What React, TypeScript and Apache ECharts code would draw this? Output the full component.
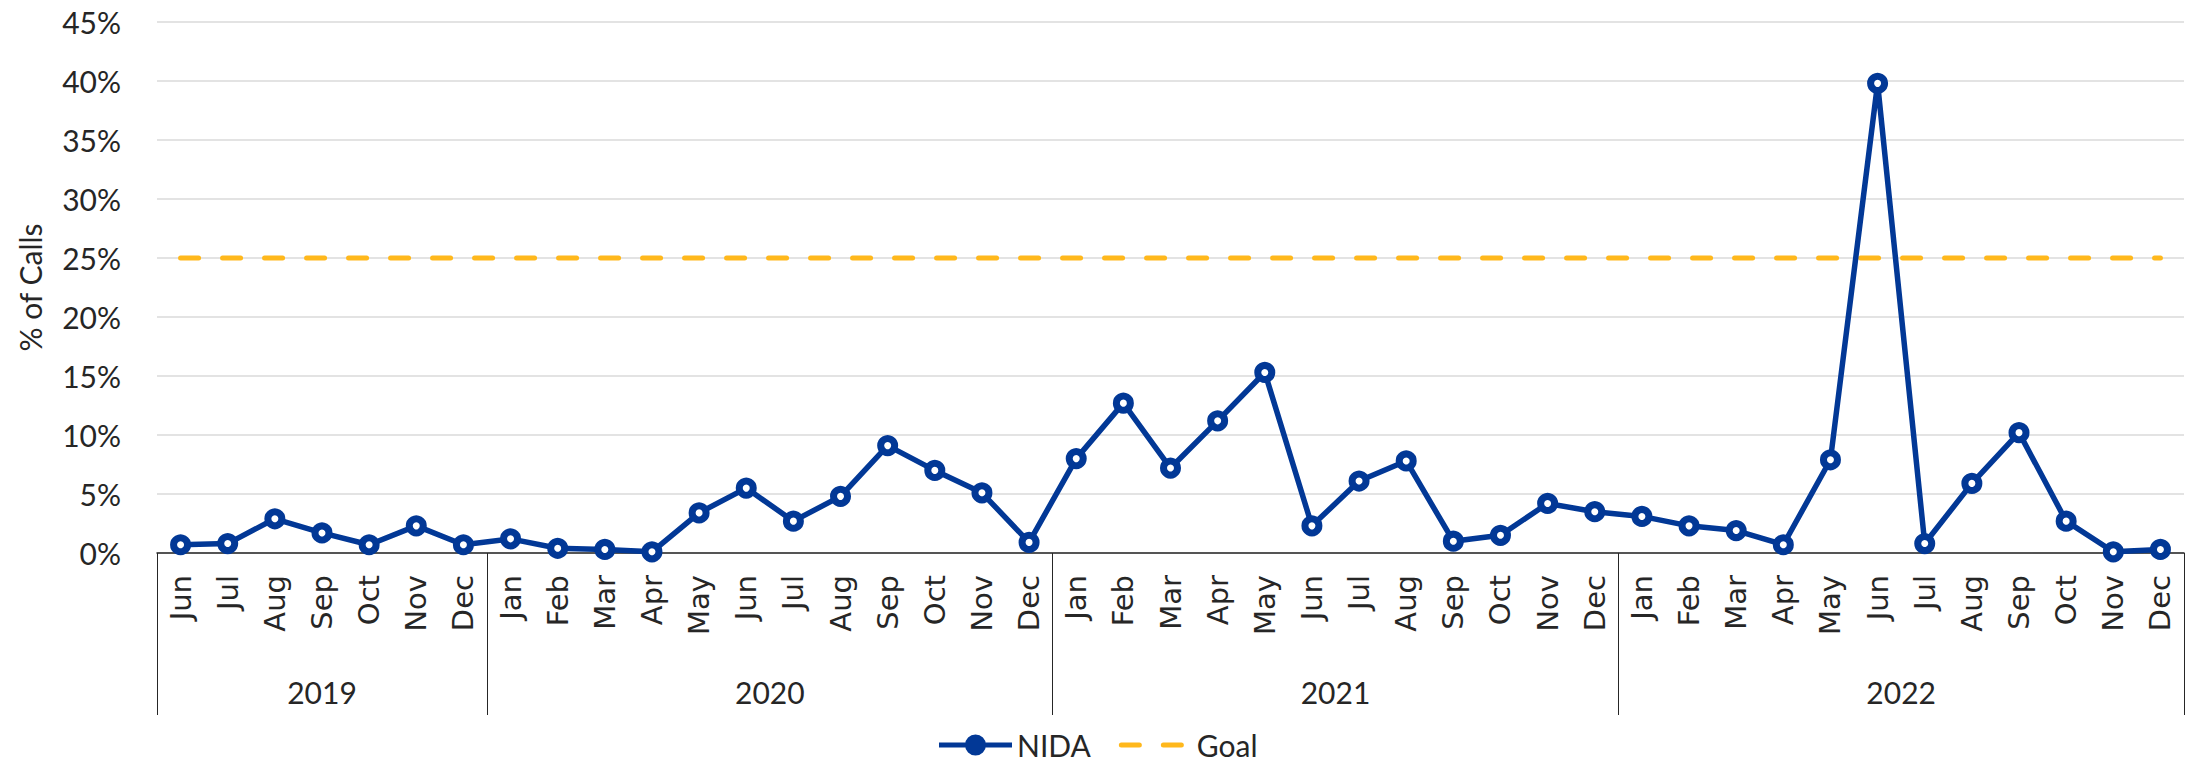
import React, { useEffect, useRef } from "react";
import * as echarts from "echarts";

const monthLabels = [
  "Jun", "Jul", "Aug", "Sep", "Oct", "Nov", "Dec",
  "Jan", "Feb", "Mar", "Apr", "May", "Jun", "Jul", "Aug", "Sep", "Oct", "Nov", "Dec",
  "Jan", "Feb", "Mar", "Apr", "May", "Jun", "Jul", "Aug", "Sep", "Oct", "Nov", "Dec",
  "Jan", "Feb", "Mar", "Apr", "May", "Jun", "Jul", "Aug", "Sep", "Oct", "Nov", "Dec",
];
const yearLabels = ["2019", "2020", "2021", "2022"];
const yearMonthCounts = [7, 12, 12, 12];

const nidaValues = [
  0.7, 0.8, 2.9, 1.7, 0.7, 2.3, 0.7,
  1.2, 0.4, 0.3, 0.1, 3.4, 5.5, 2.7, 4.8, 9.1, 7.0, 5.1, 0.9,
  8.0, 12.7, 7.2, 11.2, 15.3, 2.3, 6.1, 7.8, 1.0, 1.5, 4.2, 3.5,
  3.1, 2.3, 1.9, 0.7, 7.9, 39.8, 0.8, 5.9, 10.2, 2.7, 0.1, 0.3,
];
const goalValues = [
  25, 25, 25, 25, 25, 25, 25,
  25, 25, 25, 25, 25, 25, 25, 25, 25, 25, 25, 25,
  25, 25, 25, 25, 25, 25, 25, 25, 25, 25, 25, 25,
  25, 25, 25, 25, 25, 25, 25, 25, 25, 25, 25, 25,
];

const BLUE = "#023896";
const GOLD = "#FFB81C";
const TEXT = "#262626";
const NUM_FONT = "Lato, 'Open Sans', sans-serif";

// legend icons drawn in a 73 x 22 box (tiny corner specks fix the bounding box)
const CORNERS = "M0,0 H0.05 V0.05 H0 Z M72.95,21.95 H73 V22 H72.95 Z ";
const NIDA_ICON =
  "path://" +
  CORNERS +
  "M0,8.5 H73 V13.5 H0 Z " +
  "M26,11 A10.5,10.5 0 1,1 47,11 A10.5,10.5 0 1,1 26,11 Z";
const GOAL_ICON =
  "path://" +
  CORNERS +
  "M2.5,8.5 H20.5 A2.5,2.5 0 0 1 20.5,13.5 H2.5 A2.5,2.5 0 0 1 2.5,8.5 Z " +
  "M44.5,8.5 H62.5 A2.5,2.5 0 0 1 62.5,13.5 H44.5 A2.5,2.5 0 0 1 44.5,8.5 Z";

// Year axis built on half-month slots: slot i sits at i/2 months from the left edge.
const slotCount = monthLabels.length * 2 + 1;
const yearSlots: string[] = new Array(slotCount).fill("");
const boundarySlots = new Set<number>();
{
  let start = 0;
  yearLabels.forEach((y, k) => {
    const c = yearMonthCounts[k];
    yearSlots[2 * start + c] = y;
    boundarySlots.add(2 * start);
    boundarySlots.add(2 * (start + c));
    start += c;
  });
}

export default function App() {
  const ref = useRef<HTMLDivElement>(null);
  useEffect(() => {
    document.body.style.margin = "0";
    if (!ref.current) return;
    const chart = echarts.init(ref.current, undefined, { renderer: "svg" });
    chart.setOption({
      animation: false,
      backgroundColor: "#ffffff",
      grid: { left: 157, right: 2, top: 22, bottom: 212, containLabel: false },
      legend: {
        top: 725,
        left: 934,
        itemWidth: 73,
        itemHeight: 22,
        itemGap: 28,
        textStyle: { fontFamily: NUM_FONT, fontSize: 30, lineHeight: 30, color: TEXT },
        data: [
          { name: "NIDA", icon: NIDA_ICON, itemStyle: { color: BLUE, borderWidth: 0 } },
          { name: "Goal", icon: GOAL_ICON, itemStyle: { color: GOLD, borderWidth: 0 } },
        ],
      },
      xAxis: [
        {
          type: "category",
          position: "bottom",
          data: monthLabels,
          boundaryGap: true,
          axisLine: { show: true, lineStyle: { color: TEXT, width: 1.5 } },
          axisTick: { show: false },
          axisLabel: {
            rotate: 90,
            interval: 0,
            margin: 22,
            fontFamily: "'DejaVu Sans', sans-serif",
            fontSize: 29,
            color: TEXT,
          },
          splitLine: { show: false },
        },
        {
          type: "category",
          position: "bottom",
          offset: 0,
          data: yearSlots,
          boundaryGap: false,
          axisLine: { show: false },
          axisTick: {
            show: true,
            length: 162,
            interval: (index: number) => boundarySlots.has(index),
            lineStyle: { color: TEXT, width: 1 },
          },
          axisLabel: {
            interval: (index: number) => yearSlots[index] !== "",
            margin: 124,
            fontFamily: NUM_FONT,
            fontSize: 30,
            color: TEXT,
          },
          splitLine: { show: false },
        },
      ],
      yAxis: {
        type: "value",
        min: 0,
        max: 45,
        interval: 5,
        name: "% of Calls",
        nameLocation: "middle",
        nameRotate: 90,
        nameGap: 112,
        nameTextStyle: { fontFamily: NUM_FONT, fontSize: 30, color: TEXT },
        axisLine: { show: false },
        axisTick: { show: false },
        axisLabel: {
          formatter: "{value}%",
          margin: 36,
          fontFamily: NUM_FONT,
          fontSize: 30,
          color: TEXT,
        },
        splitLine: { lineStyle: { color: "#e3e3e3", width: 2 } },
      },
      series: [
        {
          name: "Goal",
          type: "line",
          data: goalValues,
          showSymbol: false,
          symbol: "none",
          lineStyle: { color: GOLD, width: 5, type: [18, 24], cap: "round" },
          itemStyle: { color: GOLD },
          z: 2,
        },
        {
          name: "NIDA",
          type: "line",
          data: nidaValues,
          symbol: "circle",
          symbolSize: 14,
          lineStyle: { color: BLUE, width: 5.5 },
          itemStyle: { color: "#ffffff", borderColor: BLUE, borderWidth: 7 },
          z: 3,
        },
      ],
    });
    return () => chart.dispose();
  }, []);
  return <div ref={ref} style={{ width: 2186, height: 765 }} />;
}
